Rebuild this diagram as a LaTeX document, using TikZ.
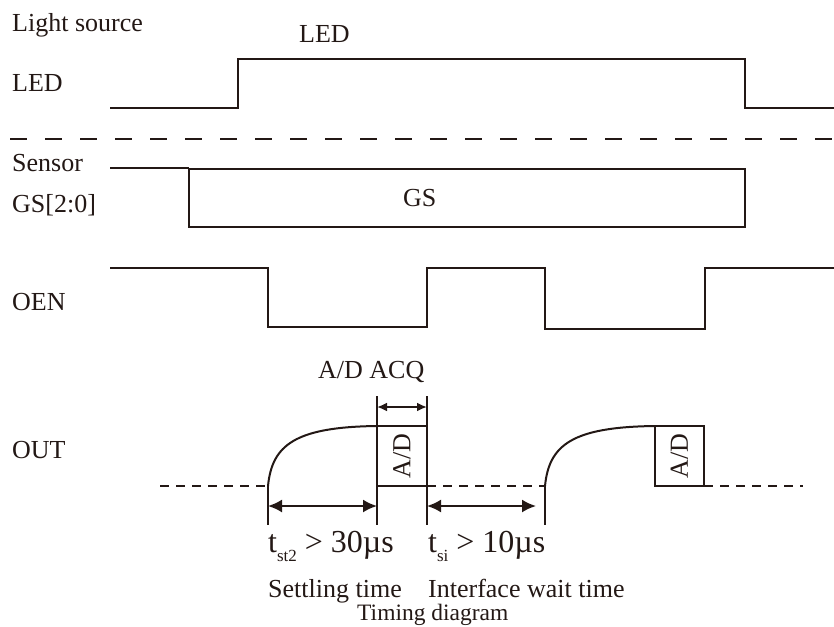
\documentclass[tikz,border=0pt]{standalone}
\usepackage{fontspec}
\setmainfont{Liberation Serif}
\usetikzlibrary{arrows.meta}
\definecolor{ink}{HTML}{231815}
\begin{document}
\begin{tikzpicture}[x=1pt,y=-1pt,
  wave/.style={draw=ink,line width=2pt,line join=miter},
  lbl/.style={anchor=base west,inner sep=0pt,text=ink,font=\fontsize{26}{26}\selectfont},
  big/.style={anchor=base west,inner sep=0pt,text=ink,font=\fontsize{32}{32}\selectfont},
  dimline/.style={draw=ink,line width=2pt,{Latex[length=14pt,width=13pt]}-{Latex[length=14pt,width=13pt]}},
  acqline/.style={draw=ink,line width=2pt,{Latex[length=10pt,width=9pt]}-{Latex[length=10pt,width=9pt]}},
  dsh/.style={draw=ink,line width=2pt,dash pattern=on 9pt off 7pt},
  sep/.style={draw=ink,line width=2pt,dash pattern=on 17pt off 18pt}]
\useasboundingbox (0,0) rectangle (834,626);

% labels
\node[lbl] (ls) at (12,32) {Light source};
\node[lbl] (ledtop) at (299,43) {LED};
\node[lbl] (led) at (12,91) {LED};
\node[lbl] (sensor) at (12,171) {Sensor};
\node[lbl] (gsl) at (12,212) {GS[2:0]};
\node[lbl] (gs) at (403,206) {GS};
\node[lbl] (oen) at (12,310) {OEN};
\node[lbl] (out) at (12,458) {OUT};
\node[lbl] (acq) at (318,378) {A/D ACQ};

% separator
\draw[sep] (10,139) -- (834,139);

% LED waveform
\draw[wave] (110,108) -- (238,108) -- (238,59) -- (745,59) -- (745,108) -- (834,108);

% Sensor
\draw[wave] (110,168) -- (189,168);
\draw[wave] (189,169) rectangle (745,227);

% OEN
\draw[wave] (110,268) -- (268,268) -- (268,327) -- (427,327) -- (427,268)
  -- (545,268) -- (545,329) -- (705,329) -- (705,268) -- (834,268);

% OUT
\coordinate (c0) at (160,486);
\coordinate (s1) at (268,486);
\coordinate (b1tl) at (377,426);
\coordinate (b1br) at (427,486);
\coordinate (s2) at (545,486);
\coordinate (b2tl) at (655,426);
\coordinate (b2br) at (704,486);
\coordinate (c3) at (803,486);

\draw[dsh] (c0) -- (s1);
\draw[wave] (s1) .. controls (272,445) and (295,427) .. (b1tl);
\draw[wave] (b1tl) rectangle (b1br);
\node[inner sep=0pt,text=ink,rotate=90,font=\fontsize{26}{26}\selectfont] (ad1) at (402,456) {A/D};
\draw[dsh] (427,486) -- (s2);
\draw[wave] (s2) .. controls (549,445) and (572,427) .. (b2tl);
\draw[wave] (b2tl) rectangle (b2br);
\node[inner sep=0pt,text=ink,rotate=90,font=\fontsize{26}{26}\selectfont] (ad2) at (679.5,456) {A/D};
\draw[dsh] (b2br) -- (c3);

% extension lines
\coordinate (t1a) at (268,525);
\coordinate (t2a) at (377,396);
\coordinate (t2b) at (377,525);
\coordinate (t3a) at (427,396);
\coordinate (t3b) at (427,525);
\coordinate (t4a) at (545,525);
\draw[wave] (s1) -- (t1a);
\draw[wave] (t2a) -- (b1tl);
\draw[wave] (377,486) -- (t2b);
\draw[wave] (t3a) -- (t3b);
\draw[wave] (s2) -- (t4a);

% dimension arrows
\coordinate (d1a) at (268,506);
\coordinate (d1b) at (377,506);
\coordinate (d2a) at (427,506);
\coordinate (d2b) at (536,506);
\coordinate (d3a) at (377,407);
\coordinate (d3b) at (427,407);
\draw[dimline] (d1a) -- (d1b);
\draw[dimline] (d2a) -- (d2b);
\draw[acqline] (d3a) -- (d3b);

% bottom texts
\node[big] (tst) at (268,552) {t\raisebox{-9pt}{\fontsize{17}{17}\selectfont st2} > 30µs};
\node[big] (tsi) at (428,552) {t\raisebox{-9pt}{\fontsize{17}{17}\selectfont si} > 10µs};
\node[lbl] (settle) at (268,597) {Settling time};
\node[lbl] (iwt) at (428,597) {Interface wait time};
\node[anchor=base west,inner sep=0pt,text=ink,font=\fontsize{23.5}{23.5}\selectfont] (td) at (357,620) {Timing diagram};
\end{tikzpicture}
\end{document}
